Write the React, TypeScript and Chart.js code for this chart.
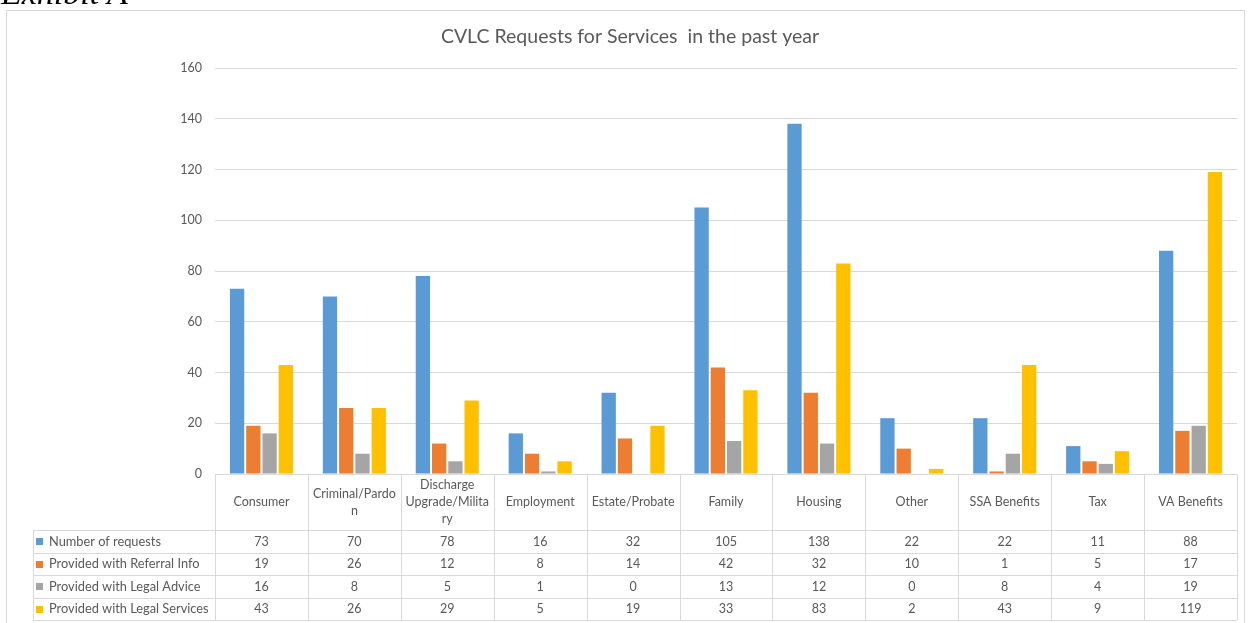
import React, { useEffect, useRef } from "react";
import { Chart, registerables } from "chart.js";

Chart.register(...registerables);

const TITLE = "CVLC Requests for Services  in the past year";
const EXHIBIT = "Exhibit A";

const categories = [
  "Consumer",
  "Criminal/Pardon",
  "Discharge Upgrade/Military",
  "Employment",
  "Estate/Probate",
  "Family",
  "Housing",
  "Other",
  "SSA Benefits",
  "Tax",
  "VA Benefits",
];

// header labels as wrapped in the data table
const categoryLines = [
  ["Consumer"],
  ["Criminal/Pardo", "n"],
  ["Discharge", "Upgrade/Milita", "ry"],
  ["Employment"],
  ["Estate/Probate"],
  ["Family"],
  ["Housing"],
  ["Other"],
  ["SSA Benefits"],
  ["Tax"],
  ["VA Benefits"],
];

const seriesNames = [
  "Number of requests",
  "Provided with Referral Info",
  "Provided with Legal Advice",
  "Provided with Legal Services",
];

const numberOfRequests = [73, 70, 78, 16, 32, 105, 138, 22, 22, 11, 88];
const referralInfo = [19, 26, 12, 8, 14, 42, 32, 10, 1, 5, 17];
const legalAdvice = [16, 8, 5, 1, 0, 13, 12, 0, 8, 4, 19];
const legalServices = [43, 26, 29, 5, 19, 33, 83, 2, 43, 9, 119];

const seriesColors = ["#5B9BD5", "#ED7D31", "#A5A5A5", "#FFC000"];

const FONT = "Lato, 'Open Sans', sans-serif";
const TEXT = "#595959";
const LINE = "#D9D9D9";

export default function App() {
  const ref = useRef<HTMLCanvasElement | null>(null);

  useEffect(() => {
    document.body.style.margin = "0";
    const canvas = ref.current!;
    const allValues = [numberOfRequests, referralInfo, legalAdvice, legalServices];

    const tablePlugin = {
      id: "tablePlugin",
      beforeDraw(chart: any) {
        const ctx = chart.ctx;
        ctx.save();
        ctx.fillStyle = "#ffffff";
        ctx.fillRect(0, 0, chart.width, chart.height);
        ctx.strokeStyle = LINE;
        ctx.lineWidth = 1;
        ctx.strokeRect(6.5, 10.5, 1238, 625);
        ctx.fillStyle = TEXT;
        ctx.font = `19.5px ${FONT}`;
        ctx.textAlign = "center";
        ctx.textBaseline = "middle";
        ctx.fillText(TITLE, 630, 37);
        ctx.restore();
      },
      afterDraw(chart: any) {
        const ctx = chart.ctx;
        const area = chart.chartArea;
        const xs = chart.scales.x;
        const n = categories.length;
        const colW = (area.right - area.left) / n;
        const tableLeft = 33;
        const top = area.bottom;
        const headBottom = 530;
        const rowH = 22.5;
        const bottom = headBottom + rowH * seriesNames.length;
        ctx.save();
        ctx.strokeStyle = LINE;
        ctx.lineWidth = 1;
        const hline = (y: number, x0: number, x1: number) => {
          ctx.beginPath();
          ctx.moveTo(x0, Math.round(y) + 0.5);
          ctx.lineTo(x1, Math.round(y) + 0.5);
          ctx.stroke();
        };
        const vline = (x: number, y0: number, y1: number) => {
          ctx.beginPath();
          ctx.moveTo(Math.round(x) + 0.5, y0);
          ctx.lineTo(Math.round(x) + 0.5, y1);
          ctx.stroke();
        };
        hline(top, area.left, area.right);
        for (let r = 0; r <= seriesNames.length; r++) {
          hline(headBottom + r * rowH, tableLeft, area.right);
        }
        vline(tableLeft, headBottom, bottom);
        for (let i = 0; i <= n; i++) {
          vline(area.left + i * colW, top, bottom);
        }
        ctx.fillStyle = TEXT;
        ctx.font = `12.5px ${FONT}`;
        ctx.textAlign = "center";
        ctx.textBaseline = "middle";
        const headMid = (top + headBottom) / 2;
        const lh = 17;
        categoryLines.forEach((lines, i) => {
          const cx = xs.getPixelForValue(i);
          const y0 = headMid - ((lines.length - 1) * lh) / 2;
          lines.forEach((t, k) => ctx.fillText(t, cx, y0 + k * lh));
        });
        seriesNames.forEach((name, r) => {
          const cy = headBottom + r * rowH + rowH / 2;
          ctx.fillStyle = seriesColors[r];
          ctx.fillRect(36, Math.round(cy) - 3, 7, 7);
          ctx.fillStyle = TEXT;
          ctx.textAlign = "left";
          ctx.font = `12.8px ${FONT}`;
          ctx.fillText(name, 49, cy + 0.5);
          ctx.textAlign = "center";
          ctx.font = `12.5px ${FONT}`;
          allValues[r].forEach((v, i) => {
            ctx.fillText(String(v), xs.getPixelForValue(i), cy + 0.5);
          });
        });
        ctx.restore();
      },
    };

    const chart = new Chart(canvas, {
      type: "bar",
      data: {
        labels: categories,
        datasets: seriesNames.map((name, i) => ({
          label: name,
          data: allValues[i],
          backgroundColor: seriesColors[i],
          borderWidth: 0,
          categoryPercentage: 0.7,
          barPercentage: 0.88,
        })),
      },
      options: {
        responsive: false,
        animation: false,
        devicePixelRatio: 1,
        layout: { padding: { left: 0, top: 68, right: 18, bottom: 149 } },
        plugins: {
          legend: { display: false },
          title: { display: false },
          tooltip: { enabled: false },
        },
        scales: {
          x: {
            ticks: { display: false },
            grid: { display: false },
            border: { display: false },
            afterFit: (s: any) => {
              s.height = 0;
            },
          },
          y: {
            min: 0,
            max: 160,
            ticks: {
              stepSize: 20,
              color: TEXT,
              font: { family: FONT, size: 12.5 },
              padding: 13,
            },
            grid: { color: LINE, drawTicks: false },
            border: { display: false },
            afterFit: (s: any) => {
              s.width = 215;
            },
          },
        },
      },
      plugins: [tablePlugin],
    });
    return () => chart.destroy();
  }, []);

  return (
    <div style={{ position: "relative", width: 1255, height: 623, overflow: "hidden", background: "#fff" }}>
      <canvas ref={ref} width={1255} height={623} style={{ position: "absolute", left: 0, top: 0 }} />
      <div
        style={{
          position: "absolute",
          left: 1,
          top: -24,
          fontFamily: "'Liberation Serif', serif",
          fontStyle: "italic",
          fontSize: 34,
          lineHeight: "34px",
          color: "#000",
          whiteSpace: "nowrap",
        }}
      >
        {EXHIBIT}
      </div>
    </div>
  );
}
